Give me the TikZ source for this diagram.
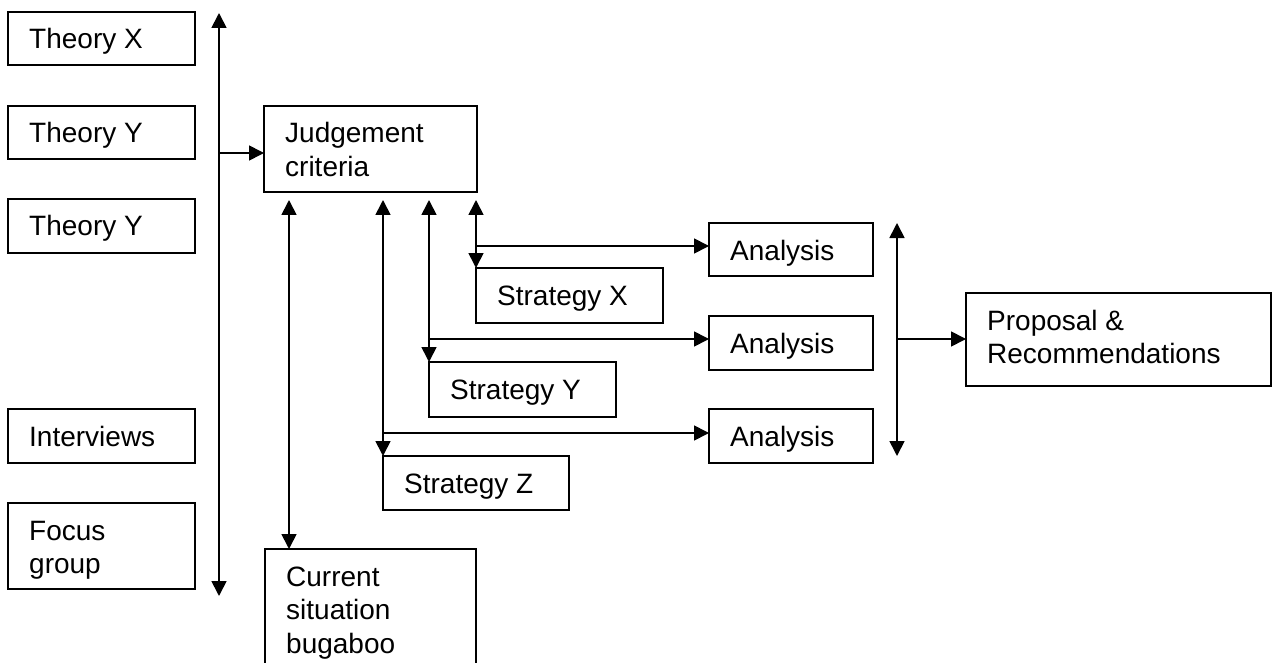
\documentclass[tikz,border=0pt]{standalone}
\usepackage{fontspec}
\setmainfont{Liberation Sans}
\usetikzlibrary{arrows.meta}

% A framed box given by its corners, with its text set from the top left
\newcommand\fbx[6]{%
  \node[box, minimum width={#4-#2}, minimum height={#5-#3}] (#1) at (#2,#3) {};
  \node[txt] at ([shift={(21,37)}]#1.north west) {\parbox[t]{320pt}{\raggedright #6}};
}

\begin{document}
\begin{tikzpicture}[x=1pt,y=-1pt,
  box/.style={draw, line width=1.7pt, rectangle, inner sep=0pt, outer sep=0pt, anchor=north west},
  txt/.style={anchor=base west, inner sep=0pt, font=\fontsize{28}{33.5}\selectfont},
  tip/.style={Triangle[length=15pt,width=15pt]},
  link/.style={line width=1.7pt, -{Triangle[length=15pt,width=15pt]}},
  dlink/.style={line width=1.7pt, {Triangle[length=15pt,width=15pt]}-{Triangle[length=15pt,width=15pt]}}]
\useasboundingbox (0,0) rectangle (1274,663);

% sources on the left
\fbx{thX}{8}{12}{195}{65}{Theory X}
\fbx{thYa}{8}{106}{195}{159}{Theory Y}
\fbx{thYb}{8}{199}{195}{253}{Theory Y}
\fbx{intv}{8}{409}{195}{463}{Interviews}
\fbx{focus}{8}{503}{195}{589}{Focus\\group}

% criteria and the current situation
\fbx{judge}{264}{106}{477}{192}{Judgement\\criteria}
\fbx{cur}{265}{549}{476}{668}{Current\\situation\\bugaboo}

% strategies
\fbx{stX}{476}{268}{663}{323}{Strategy X}
\fbx{stY}{429}{362}{616}{417}{Strategy Y}
\fbx{stZ}{383}{456}{569}{510}{Strategy Z}

% analyses
\fbx{anA}{709}{223}{873}{276}{Analysis}
\fbx{anB}{709}{316}{873}{370}{Analysis}
\fbx{anC}{709}{409}{873}{463}{Analysis}

% outcome
\fbx{prop}{966}{293}{1271}{386}{Proposal \&\\Recommendations}

% left spine feeding the criteria
\coordinate (sT) at (219,13);
\coordinate (sB) at (219,596);
\coordinate (sJ) at (219,153);
\draw[dlink] (sT) -- (sB);
\draw[link] (sJ) -- (sJ -| judge.west);

% criteria <-> current situation
\coordinate (jc) at (289,200);
\draw[dlink] (jc) -- (jc |- cur.north);

% criteria <-> strategies, each branching to its analysis
\coordinate (jx) at (476,200);
\coordinate (jy) at (429,200);
\coordinate (jz) at (383,200);
\draw[dlink] (jx) -- (jx |- stX.north);
\draw[dlink] (jy) -- (jy |- stY.north);
\draw[dlink] (jz) -- (jz |- stZ.north);
\coordinate (bx) at (476,246);
\coordinate (by) at (429,339);
\coordinate (bz) at (383,433);
\draw[link] (bx) -- (bx -| anA.west);
\draw[link] (by) -- (by -| anB.west);
\draw[link] (bz) -- (bz -| anC.west);

% right spine feeding the proposal
\coordinate (rT) at (897,223);
\coordinate (rB) at (897,456);
\coordinate (rP) at (897,339);
\draw[dlink] (rT) -- (rB);
\draw[link] (rP) -- (rP -| prop.west);
\end{tikzpicture}
\end{document}
